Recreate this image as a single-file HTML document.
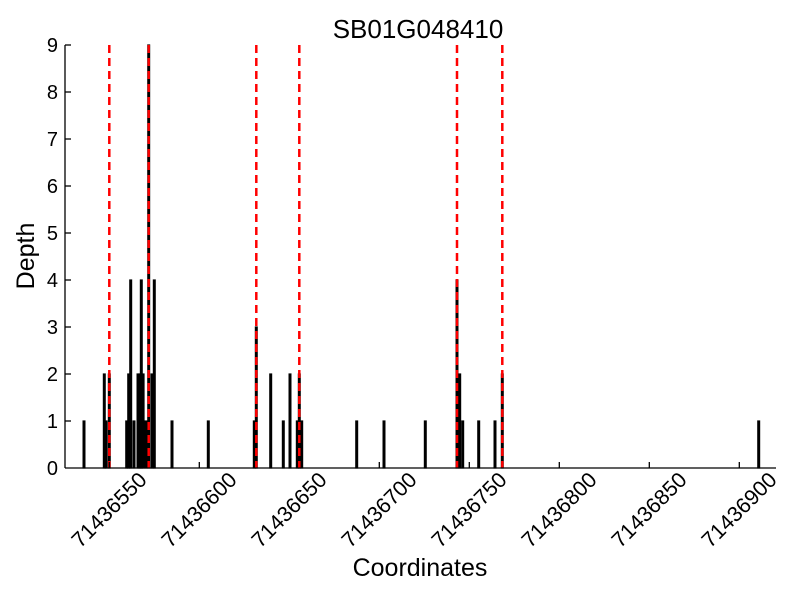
<!DOCTYPE html>
<html><head><meta charset="utf-8"><style>body{margin:0;background:#fff}svg{display:block}</style></head><body>
<svg width="800" height="600" xmlns="http://www.w3.org/2000/svg" font-family="Liberation Sans, sans-serif">
<rect width="800" height="600" fill="#fff"/>
<text x="418" y="38" font-size="26" text-anchor="middle">SB01G048410</text>
<g fill="#000" stroke="#000" stroke-width="1.2">
<rect x="83.1" y="421" width="1.8" height="47"/>
<rect x="103.4" y="374" width="1.8" height="94"/>
<rect x="105.2" y="421" width="1.8" height="47"/>
<rect x="108.4" y="374" width="1.8" height="94"/>
<rect x="125.8" y="421" width="1.8" height="47"/>
<rect x="127.8" y="374" width="1.8" height="94"/>
<rect x="129.8" y="280" width="1.8" height="188"/>
<rect x="133.1" y="421" width="1.8" height="47"/>
<rect x="137.1" y="374" width="1.8" height="94"/>
<rect x="139.1" y="374" width="1.8" height="94"/>
<rect x="140.4" y="280" width="1.8" height="188"/>
<rect x="142.2" y="374" width="1.8" height="94"/>
<rect x="145.1" y="421" width="1.8" height="47"/>
<rect x="147.8" y="45" width="1.8" height="423"/>
<rect x="151.1" y="374" width="1.8" height="94"/>
<rect x="153.4" y="280" width="1.8" height="188"/>
<rect x="171.1" y="421" width="1.8" height="47"/>
<rect x="207.4" y="421" width="1.8" height="47"/>
<rect x="253.4" y="421" width="1.8" height="47"/>
<rect x="255.4" y="327" width="1.8" height="141"/>
<rect x="269.8" y="374" width="1.8" height="94"/>
<rect x="282.4" y="421" width="1.8" height="47"/>
<rect x="289.1" y="374" width="1.8" height="94"/>
<rect x="296.4" y="421" width="1.8" height="47"/>
<rect x="298.4" y="374" width="1.8" height="94"/>
<rect x="300.8" y="421" width="1.8" height="47"/>
<rect x="355.8" y="421" width="1.8" height="47"/>
<rect x="383.1" y="421" width="1.8" height="47"/>
<rect x="424.4" y="421" width="1.8" height="47"/>
<rect x="456.1" y="280" width="1.8" height="188"/>
<rect x="458.8" y="374" width="1.8" height="94"/>
<rect x="461.8" y="421" width="1.8" height="47"/>
<rect x="477.8" y="421" width="1.8" height="47"/>
<rect x="494.1" y="421" width="1.8" height="47"/>
<rect x="501.4" y="374" width="1.8" height="94"/>
<rect x="757.8" y="421" width="1.8" height="47"/>
</g>
<g stroke="#f00" stroke-width="2.5" stroke-dasharray="8,5">
<line x1="109.3" y1="45" x2="109.3" y2="468"/>
<line x1="148.7" y1="45" x2="148.7" y2="468"/>
<line x1="256.3" y1="45" x2="256.3" y2="468"/>
<line x1="299.3" y1="45" x2="299.3" y2="468"/>
<line x1="457" y1="45" x2="457" y2="468"/>
<line x1="502.3" y1="45" x2="502.3" y2="468"/>
</g>
<g stroke="#000" stroke-width="1.3">
<line x1="65" y1="45" x2="65" y2="468"/>
<line x1="65" y1="468" x2="776" y2="468"/>
<line x1="65" y1="421" x2="71" y2="421"/><line x1="65" y1="374" x2="71" y2="374"/><line x1="65" y1="327" x2="71" y2="327"/>
<line x1="65" y1="280" x2="71" y2="280"/><line x1="65" y1="233" x2="71" y2="233"/><line x1="65" y1="186" x2="71" y2="186"/>
<line x1="65" y1="139" x2="71" y2="139"/><line x1="65" y1="92" x2="71" y2="92"/><line x1="65" y1="45" x2="71" y2="45"/>
<line x1="109.3" y1="468" x2="109.3" y2="462"/><line x1="199.3" y1="468" x2="199.3" y2="462"/><line x1="289.3" y1="468" x2="289.3" y2="462"/>
<line x1="379.3" y1="468" x2="379.3" y2="462"/><line x1="469.3" y1="468" x2="469.3" y2="462"/><line x1="559.3" y1="468" x2="559.3" y2="462"/>
<line x1="649.3" y1="468" x2="649.3" y2="462"/><line x1="739.3" y1="468" x2="739.3" y2="462"/>
</g>
<g font-size="20" text-anchor="end">
<text x="58" y="475">0</text><text x="58" y="428">1</text><text x="58" y="381">2</text><text x="58" y="334">3</text>
<text x="58" y="287">4</text><text x="58" y="240">5</text><text x="58" y="193">6</text><text x="58" y="146">7</text>
<text x="58" y="99">8</text><text x="58" y="52">9</text>
</g>
<g font-size="21.5" text-anchor="middle">
<text transform="translate(109.3,510) rotate(-45)" dy="7">71436550</text>
<text transform="translate(199.3,510) rotate(-45)" dy="7">71436600</text>
<text transform="translate(289.3,510) rotate(-45)" dy="7">71436650</text>
<text transform="translate(379.3,510) rotate(-45)" dy="7">71436700</text>
<text transform="translate(469.3,510) rotate(-45)" dy="7">71436750</text>
<text transform="translate(559.3,510) rotate(-45)" dy="7">71436800</text>
<text transform="translate(649.3,510) rotate(-45)" dy="7">71436850</text>
<text transform="translate(739.3,510) rotate(-45)" dy="7">71436900</text>
</g>
<text x="420" y="576" font-size="25" text-anchor="middle">Coordinates</text>
<text transform="translate(34,256) rotate(-90)" font-size="25" text-anchor="middle">Depth</text>
</svg>
</body></html>
